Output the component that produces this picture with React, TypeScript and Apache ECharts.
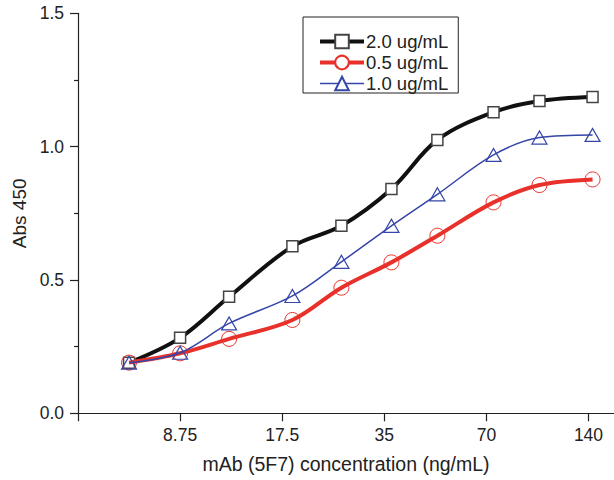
import React, { useEffect, useRef } from "react";
import * as echarts from "echarts";

const xTickLabels = ["8.75", "17.5", "35", "70", "140"];
const xTickPositions = [0, 1, 2, 3, 4];
// x positions in doubling steps relative to 8.75 ng/mL
const xPositions = [-0.5, 0, 0.48, 1.1, 1.58, 2.07, 2.52, 3.07, 3.52, 4.04];
const series20 = [0.19, 0.283, 0.437, 0.626, 0.703, 0.841, 1.025, 1.129, 1.171, 1.186];
const series05 = [0.19, 0.225, 0.279, 0.35, 0.471, 0.566, 0.666, 0.791, 0.856, 0.877];
const series10 = [0.19, 0.227, 0.337, 0.44, 0.568, 0.703, 0.821, 0.969, 1.034, 1.044];
const seriesNames = ["2.0 ug/mL", "0.5 ug/mL", "1.0 ug/mL"];

const FONT = "Liberation Sans, Arial, Helvetica, sans-serif";
const TXT = "#222";
const BLACK = "#111";
const RED = "#e8312a";
const BLUE = "#3545a8";

export default function App() {
  const ref = useRef<HTMLDivElement>(null);
  useEffect(() => {
    document.body.style.margin = "0";
    if (!ref.current) return;
    const chart = echarts.init(ref.current, undefined, { renderer: "svg" });
    const pairs = (ys: number[]) => xPositions.map((x, i) => [x, ys[i]]);
    chart.setOption({
      animation: false,
      backgroundColor: "#fff",
      grid: { left: 78, right: 0, top: 13.3, bottom: 66.7 },
      legend: {
        orient: "vertical",
        left: 303,
        top: 17,
        backgroundColor: "#fff",
        borderColor: TXT,
        borderWidth: 1,
        padding: [15, 10, 0, 15],
        itemWidth: 44,
        itemHeight: 17,
        itemGap: 2,
        textStyle: { fontSize: 18.5, color: TXT, fontFamily: FONT, padding: [0, 0, 0, -3] },
        data: [
          { name: seriesNames[0], lineStyle: { width: 4, color: BLACK } },
          { name: seriesNames[1], itemStyle: { color: "#fff" }, lineStyle: { width: 4, color: RED } },
          { name: seriesNames[2], itemStyle: { color: "#fff" }, lineStyle: { width: 1.5, color: BLUE } },
        ],
      },
      xAxis: {
        type: "value",
        min: -1,
        max: 4.25,
        name: "mAb (5F7) concentration (ng/mL)",
        nameLocation: "middle",
        nameGap: 41,
        nameTextStyle: { fontSize: 19.5, color: TXT, fontFamily: FONT },
        axisLine: { show: true, onZero: false, lineStyle: { color: TXT, width: 1.2 } },
        axisTick: { show: true, length: 8, customValues: [-1, ...xTickPositions], lineStyle: { color: TXT, width: 1.2 } },
        axisLabel: {
          customValues: xTickPositions,
          margin: 13,
          fontSize: 17.5,
          color: TXT,
          fontFamily: FONT,
          formatter: (v: number) => {
            const i = xTickPositions.indexOf(Math.round(v));
            return i >= 0 ? xTickLabels[i] : "";
          },
        },
        splitLine: { show: false },
      },
      yAxis: {
        type: "value",
        min: 0,
        max: 1.5,
        interval: 0.5,
        name: "Abs 450",
        nameLocation: "middle",
        nameGap: 48,
        nameTextStyle: { fontSize: 19, color: TXT, fontFamily: FONT },
        axisLine: { show: true, onZero: false, lineStyle: { color: TXT, width: 1.2 } },
        axisTick: { show: true, length: 8, lineStyle: { color: TXT, width: 1.2 } },
        minorTick: { show: true, splitNumber: 2, length: 4, lineStyle: { color: TXT, width: 1.2 } },
        axisLabel: {
          margin: 14,
          fontSize: 17.5,
          color: TXT,
          fontFamily: FONT,
          formatter: (v: number) => v.toFixed(1),
        },
        splitLine: { show: false },
      },
      series: [
        {
          name: seriesNames[0],
          type: "line",
          smooth: 0.35,
          data: pairs(series20),
          symbol: "rect",
          symbolSize: 11,
          lineStyle: { color: BLACK, width: 4 },
          itemStyle: { color: "#fff", borderColor: "#444", borderWidth: 1.5 },
          z: 2,
        },
        {
          name: seriesNames[1],
          type: "line",
          smooth: 0.35,
          data: pairs(series05),
          symbol: "circle",
          symbolSize: 15,
          lineStyle: { color: RED, width: 4 },
          itemStyle: { color: "rgba(255,255,255,0)", borderColor: RED, borderWidth: 1 },
          z: 3,
        },
        {
          name: seriesNames[2],
          type: "line",
          smooth: 0.35,
          data: pairs(series10),
          symbol: "triangle",
          symbolSize: [15, 13],
          lineStyle: { color: BLUE, width: 1.5 },
          itemStyle: { color: "rgba(255,255,255,0)", borderColor: BLUE, borderWidth: 1.2 },
          z: 4,
        },
      ],
    });
    return () => chart.dispose();
  }, []);
  return <div ref={ref} style={{ width: 614, height: 480 }} />;
}
